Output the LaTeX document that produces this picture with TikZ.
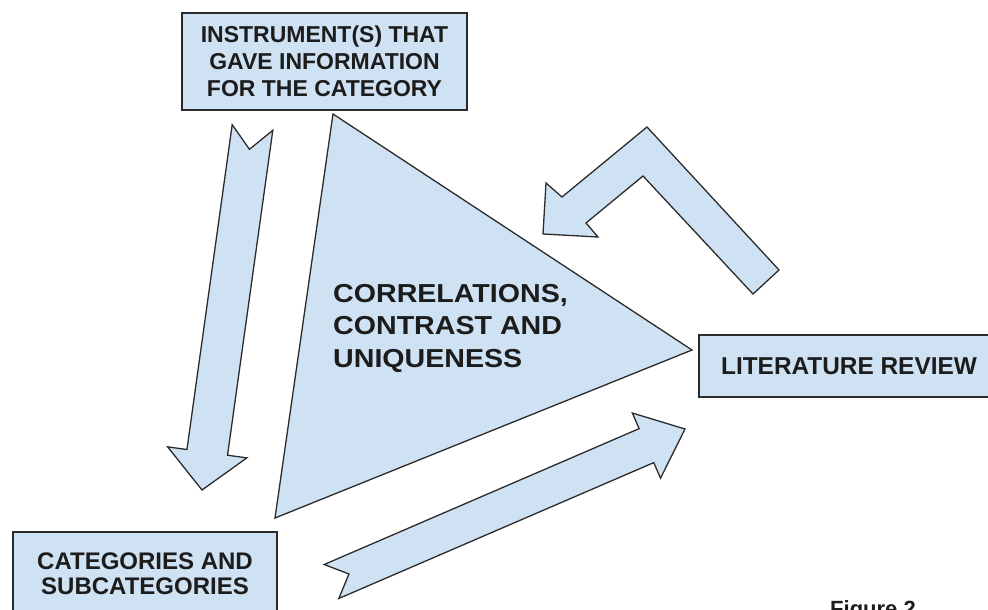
\documentclass[tikz,border=0pt]{standalone}
\usepackage{fontspec}
\setmainfont{Liberation Sans}
\newfontfamily\widesans[FakeStretch=1.1]{Liberation Sans}
\usetikzlibrary{calc}

\definecolor{boxfill}{HTML}{CFE2F3}
\definecolor{edge}{HTML}{2B2B2B}
\definecolor{ink}{HTML}{1C1C1C}

\tikzset{
  blockshape/.style={fill=boxfill, draw=edge, line width=1.3pt, line join=miter},
  labelbox/.style={blockshape, rectangle, inner sep=0pt, align=center, text=ink,
    font=\bfseries\fontsize{23}{27}\selectfont},
  boldtext/.style={inner sep=0pt, text=ink},
}

% Straight block arrow with a notched tail:
% #1 tail centre, #2 tip, #3 half shaft width, #4 half head width,
% #5 head length, #6 notch depth
\newcommand{\notchedarrow}[6]{%
  \coordinate (#1-hb) at ($(#2)!#5!(#1)$);
  \draw[blockshape] ($(#1)!#3!90:(#2)$) -- ($(#1)!#6!(#2)$) -- ($(#1)!#3!-90:(#2)$)
    -- ($(#1-hb)!#3!-90:(#2)$) -- ($(#1-hb)!#4!-90:(#2)$) -- (#2)
    -- ($(#1-hb)!#4!90:(#2)$) -- ($(#1-hb)!#3!90:(#2)$) -- cycle;
}

\begin{document}
\begin{tikzpicture}[x=1pt,y=-1pt]
\useasboundingbox (0,0) rectangle (988,610);
\clip (0,0) rectangle (988,610);

% central triangle
\coordinate (tTop) at (333,114);
\coordinate (tRight) at (692,350);
\coordinate (tBottom) at (275,518);
\draw[blockshape] (tTop) -- (tRight) -- (tBottom) -- cycle;
\node[boldtext, anchor=west, align=left, font=\widesans\bfseries\fontsize{26}{32.5}\selectfont]
  (corr) at (333,328) {CORRELATIONS,\\CONTRAST AND\\UNIQUENESS};

% boxes
\node[labelbox, minimum width=285pt, minimum height=97pt] (instr) at (324.5,61.5)
  {INSTRUMENT(S) THAT\\GAVE INFORMATION\\FOR THE CATEGORY};
\node[labelbox, minimum width=264pt, minimum height=84pt,
  font=\bfseries\fontsize{24}{25}\selectfont] (cats) at (145,574)
  {CATEGORIES AND\\SUBCATEGORIES};
\node[labelbox, minimum width=300pt, minimum height=62pt,
  font=\bfseries\fontsize{24.4}{28}\selectfont] (lit) at (849,366)
  {LITERATURE REVIEW};

% arrow from the instruments box down to the categories
\coordinate (dTail) at (252.5,127.5);
\coordinate (dTip) at (202,490);
\notchedarrow{dTail}{dTip}{20.5pt}{40pt}{38pt}{22pt}

% arrow from the categories up to the literature review
\coordinate (gTail) at (331.5,581.5);
\coordinate (gTip) at (685,429);
\notchedarrow{gTail}{gTip}{18.5pt}{35.5pt}{42pt}{19pt}

% bent arrow from the literature review back to the triangle
\draw[blockshape] (779,270) -- (647,127) -- (562,197) -- (546,183) -- (543,234)
  -- (598,237) -- (586,223) -- (643,176) -- (753,294) -- cycle;

\node[boldtext, anchor=north west, font=\bfseries\fontsize{22}{26}\selectfont]
  (fig) at (830,600) {Figure 2};
\end{tikzpicture}
\end{document}
